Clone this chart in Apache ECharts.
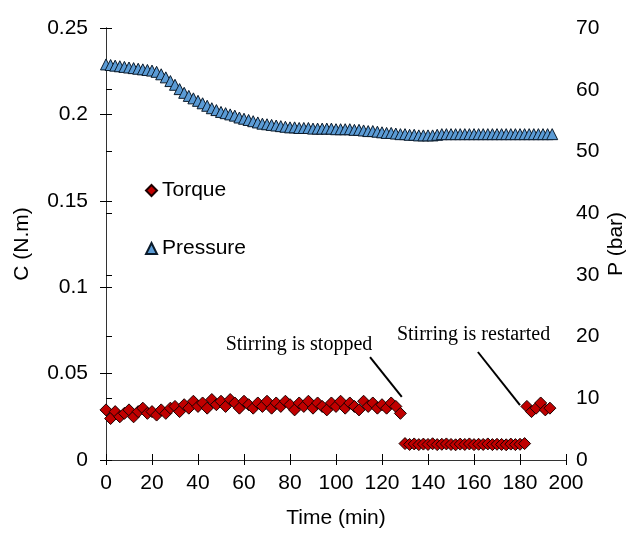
<!DOCTYPE html>
<html>
<head>
<meta charset="utf-8">
<script src="https://cdn.jsdelivr.net/npm/echarts@6/dist/echarts.min.js"></script>
<style>
html,body{margin:0;padding:0;background:#fff;}
#main{width:641px;height:534px;}
</style>
</head>
<body>
<div id="main"></div>
<script>
// 压力 (bar), 每2分钟一个点
var pTime=[0,2,4,6,8,10,12,14,16,18,20,22,24,26,28,30,32,34,36,38,40,42,44,46,48,50,52,54,56,58,60,62,64,66,68,70,72,74,76,78,80,82,84,86,88,90,92,94,96,98,100,102,104,106,108,110,112,114,116,118,120,122,124,126,128,130,132,134,136,138,140,142,144,146,148,150,152,154,156,158,160,162,164,166,168,170,172,174,176,178,180,182,184,186,188,190,192,194];
var pressure=[64.1,64.0,63.9,63.8,63.7,63.6,63.5,63.4,63.3,63.2,63.1,62.9,62.5,62.0,61.4,60.8,60.1,59.5,59.0,58.6,58.2,57.8,57.4,57.0,56.7,56.4,56.2,56.0,55.8,55.5,55.3,55.1,54.9,54.7,54.5,54.4,54.3,54.2,54.1,54.0,53.9,53.9,53.8,53.8,53.8,53.7,53.7,53.7,53.7,53.7,53.6,53.6,53.6,53.6,53.5,53.5,53.4,53.3,53.3,53.2,53.1,53.0,53.0,52.9,52.8,52.8,52.7,52.7,52.6,52.6,52.6,52.6,52.7,52.8,52.8,52.8,52.8,52.8,52.8,52.8,52.8,52.8,52.8,52.8,52.8,52.8,52.8,52.8,52.8,52.8,52.8,52.8,52.8,52.8,52.8,52.8,52.8,52.8];
// 扭矩 (N.m)
var tTime=[0,2,4,6,8,10,12,14,16,18,20,22,24,26,28,30,32,34,36,38,40,42,44,46,48,50,52,54,56,58,60,62,64,66,68,70,72,74,76,78,80,82,84,86,88,90,92,94,96,98,100,102,104,106,108,110,112,114,116,118,120,122,124,126,128,
    130,132,134,136,138,140,142,144,146,148,150,152,154,156,158,160,162,164,166,168,170,172,174,176,178,180,182,
    183,185,187,189,191,193];
var torque=[0.029,0.024,0.028,0.025,0.027,0.029,0.025,0.028,0.030,0.027,0.028,0.026,0.029,0.027,0.030,0.031,0.028,0.032,0.030,0.034,0.031,0.033,0.030,0.035,0.032,0.034,0.031,0.035,0.033,0.030,0.034,0.032,0.030,0.033,0.031,0.034,0.030,0.033,0.031,0.034,0.032,0.029,0.033,0.031,0.034,0.030,0.033,0.031,0.029,0.033,0.031,0.034,0.030,0.033,0.031,0.029,0.034,0.031,0.033,0.030,0.032,0.030,0.033,0.031,0.027,
    0.0095,0.0090,0.0093,0.0089,0.0092,0.0090,0.0094,0.0089,0.0091,0.0093,0.0090,0.0088,0.0092,0.0090,0.0093,0.0089,0.0091,0.0090,0.0093,0.0089,0.0091,0.0090,0.0088,0.0092,0.0089,0.0091,0.0095,
    0.031,0.028,0.030,0.033,0.029,0.030];
var xTicks=[0,200,20];
var cTicks=[0,0.25,0.05];
var pTicks=[0,70,10];

function pairs(xs,ys){
    var out=[];
    for(var i=0;i<xs.length;i++){ out.push([xs[i],ys[i]]); }
    return out;
}

var mychart=echarts.init(document.getElementById("main"));
var axisCol='#000';
var font='Liberation Sans';
function tick(inside,len){
    return {show:true,inside:inside,length:len,lineStyle:{color:axisCol,width:1}};
}
var option={
    backgroundColor:'#fff',
    animation:false,
    textStyle:{fontFamily:font},
    grid:{left:106,right:75,top:28,bottom:74},
    legend:{
        orient:'vertical',
        left:140,top:175,
        itemWidth:11,itemHeight:11,itemGap:37,
        textStyle:{fontSize:21,color:'#000',fontFamily:font},
        data:['Torque','Pressure']
    },
    xAxis:[
        {
            type:'value',min:xTicks[0],max:xTicks[1],interval:xTicks[2],
            name:'Time (min)',nameLocation:'middle',nameGap:48,
            nameTextStyle:{fontSize:21,color:'#000'},
            axisLine:{show:true,lineStyle:{color:'#333'}},
            axisTick:tick(false,5),
            axisLabel:{fontSize:21,color:'#000',margin:13},
            splitLine:{show:false}
        },
        {   // 内侧刻度
            type:'value',min:xTicks[0],max:xTicks[1],interval:xTicks[2],position:'bottom',
            axisLine:{show:false},
            axisTick:tick(true,6),
            axisLabel:{show:false},splitLine:{show:false}
        }
    ],
    yAxis:[
        {
            type:'value',min:cTicks[0],max:cTicks[1],interval:cTicks[2],position:'left',
            name:'C (N.m)',nameLocation:'middle',nameGap:73,nameRotate:90,
            nameTextStyle:{fontSize:21,color:'#000'},
            axisLine:{show:true,lineStyle:{color:'#333'}},
            axisTick:tick(false,6),
            axisLabel:{fontSize:21,color:'#000',margin:18},
            splitLine:{show:false}
        },
        {
            type:'value',min:pTicks[0],max:pTicks[1],interval:pTicks[2],position:'right',
            name:'P (bar)',nameLocation:'middle',nameGap:40,nameRotate:90,nameMoveOverlap:false,
            nameTextStyle:{fontSize:21,color:'#000'},
            axisLine:{show:true,lineStyle:{color:'#333'}},
            axisTick:tick(false,6),
            axisLabel:{fontSize:21,color:'#000',margin:10},
            splitLine:{show:false}
        },
        {   // 左轴内侧刻度
            type:'value',min:cTicks[0],max:cTicks[1],interval:cTicks[2],position:'left',
            axisLine:{show:false},
            axisTick:tick(true,6),
            axisLabel:{show:false},splitLine:{show:false}
        }
    ],
    series:[
        {
            name:'Torque',type:'scatter',xAxisIndex:0,yAxisIndex:0,
            symbol:'diamond',symbolSize:12,
            itemStyle:{color:'#C00000',borderColor:'#1a0000',borderWidth:1,opacity:1},
            data:pairs(tTime,torque),
            markLine:{
                silent:true,symbol:['none','arrow'],symbolSize:[0,10],
                lineStyle:{color:'#000',width:2,type:'solid'},
                label:{show:false},
                data:[
                    [{coord:[114.8,0.0596]},{coord:[128.6,0.0366]}],
                    [{coord:[161.7,0.0625]},{coord:[180.0,0.0318]}]
                ]
            },
            markPoint:{
                silent:true,symbol:'circle',symbolSize:1,
                itemStyle:{color:'rgba(0,0,0,0)'},
                label:{show:true,position:'inside',color:'#000',fontSize:20,fontFamily:'Liberation Serif',
                    formatter:function(p){return p.name;}},
                data:[
                    {name:'Stirring is stopped',coord:[83.9,0.0666]},
                    {name:'Stirring is restarted',coord:[159.8,0.0723]}
                ]
            }
        },
        {
            name:'Pressure',type:'scatter',xAxisIndex:0,yAxisIndex:1,
            symbol:'triangle',symbolSize:11,
            itemStyle:{color:'#5B9BD5',borderColor:'#0a1a2a',borderWidth:1,opacity:1},
            data:pairs(pTime,pressure)
        }
    ]
};
mychart.setOption(option);
</script>
</body>
</html>
